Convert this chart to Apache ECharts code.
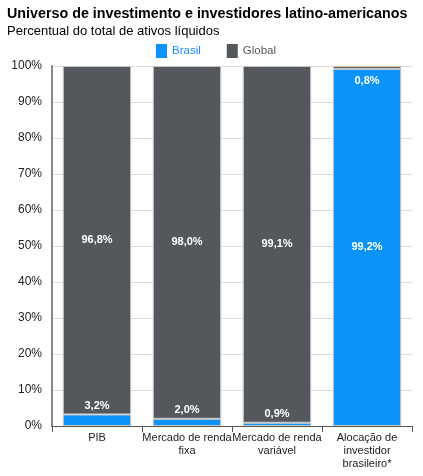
<!DOCTYPE html>
<html><head><meta charset="utf-8">
<script src="https://cdn.jsdelivr.net/npm/echarts@6/dist/echarts.min.js"></script>
<style>html,body{margin:0;padding:0;background:#fff}#c{width:423px;height:476px}</style>
</head><body><div id="c"></div>
<script>
const categories = ['PIB', 'Mercado de renda\nfixa', 'Mercado de renda\nvariável', 'Alocação de\ninvestidor\nbrasileiro*'];
const brasil = [3.2, 2.0, 0.9, 99.2];
const global = [96.8, 98.0, 99.1, 0.8];
const yTicks = [0, 10, 20, 30, 40, 50, 60, 70, 80, 90, 100];

const fmt = v => v.toFixed(1).replace('.', ',') + '%';
const FONT = 'Liberation Sans, Arial, sans-serif';
const lab = {show: true, color: '#fff', fontSize: 11, fontWeight: 'bold', fontFamily: FONT, formatter: p => fmt(p.value)};

const chart = echarts.init(document.getElementById('c'));
chart.setOption({
  animation: false,
  title: [
    {text: 'Universo de investimento e investidores latino-americanos', left: 2, top: 2,
     textStyle: {fontSize: 14.3, fontWeight: 'bold', color: '#000', fontFamily: FONT}},
    {text: 'Percentual do total de ativos líquidos', left: 2, top: 20,
     textStyle: {fontSize: 13, fontWeight: 'normal', color: '#000', fontFamily: FONT}}
  ],
  legend: {
    top: 39, left: 151, itemWidth: 11, itemHeight: 14, itemGap: 26,
    icon: 'rect',
    itemStyle: {borderWidth: 0},
    data: [
      {name: 'Brasil', textStyle: {color: '#1a8cff'}},
      {name: 'Global', textStyle: {color: '#55585c'}}
    ],
    textStyle: {fontSize: 11.5, fontFamily: FONT}
  },
  grid: {left: 52, right: 11, top: 66, bottom: 50, containLabel: false},
  xAxis: {
    type: 'category', data: categories,
    axisLine: {lineStyle: {color: '#555', width: 1}},
    axisTick: {show: true, alignWithLabel: false, length: 6, lineStyle: {color: '#555'}},
    axisLabel: {color: '#222', fontSize: 11, fontFamily: FONT, lineHeight: 13, interval: 0, margin: 5}
  },
  yAxis: {
    type: 'value', min: 0, max: 100, interval: 10,
    axisLine: {show: true, lineStyle: {color: '#888', width: 2}},
    axisTick: {show: false},
    splitLine: {lineStyle: {color: '#ddd'}},
    axisLabel: {color: '#222', fontSize: 12, fontFamily: FONT, margin: 10, formatter: v => yTicks.includes(v) ? v + '%' : ''}
  },
  series: [
    {
      name: 'Brasil', type: 'bar', stack: 'a', barWidth: '76%',
      itemStyle: {color: '#0a93fb', borderColor: '#c8c8c8', borderWidth: 1},
      data: brasil.map((v, i) => ({value: v, label: Object.assign({}, lab, {position: i === 3 ? 'inside' : 'top', distance: 3})}))
    },
    {
      name: 'Global', type: 'bar', stack: 'a', barWidth: '76%',
      itemStyle: {color: '#54575b', borderColor: '#c8c8c8', borderWidth: 1},
      data: global.map((v, i) => ({value: v, label: Object.assign({}, lab, {position: i === 3 ? 'bottom' : 'inside', distance: 7})}))
    }
  ]
});
</script></body></html>
